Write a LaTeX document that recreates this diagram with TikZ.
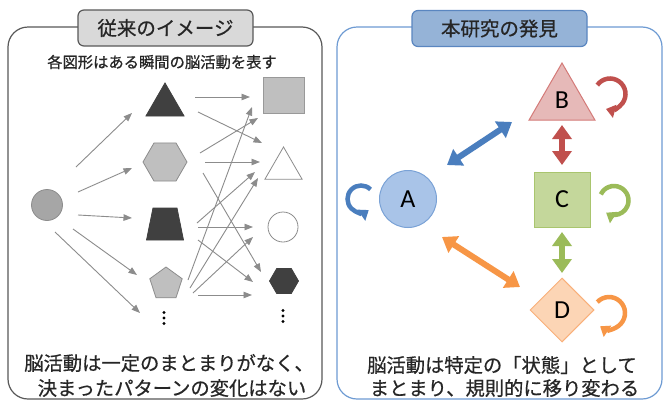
\documentclass[tikz,border=0pt]{standalone}
\usepackage{fontspec}
\setmainfont{Noto Sans CJK JP}[FakeBold=0.6]
\newfontfamily\latf{Carlito}
\usetikzlibrary{shapes.geometric,arrows.meta}
\definecolor{darkfill}{HTML}{404040}
\definecolor{shgray}{HTML}{BFBFBF}
\definecolor{shgrayb}{HTML}{8C8C8C}
\definecolor{meshgray}{HTML}{8C8C8C}
\definecolor{srcgray}{HTML}{A6A6A6}
\definecolor{lframe}{HTML}{595959}
\definecolor{ltitle}{HTML}{D9D9D9}
\definecolor{rframe}{HTML}{6E9BD3}
\definecolor{rtitle}{HTML}{95B3D7}
\definecolor{rtitleb}{HTML}{5A86C0}
\definecolor{afill}{HTML}{A9C4E8}
\definecolor{adraw}{HTML}{7AA2D6}
\definecolor{ablue}{HTML}{4A7EBE}
\definecolor{bfill}{HTML}{E6B9B8}
\definecolor{bdraw}{HTML}{D47A78}
\definecolor{bred}{HTML}{C0504D}
\definecolor{cfill}{HTML}{C4D79B}
\definecolor{cdraw}{HTML}{A9C56E}
\definecolor{cgreen}{HTML}{9BBB59}
\definecolor{dfill}{HTML}{FCD5B5}
\definecolor{ddraw}{HTML}{F9B07A}
\definecolor{dorange}{HTML}{F79646}
\definecolor{txt}{HTML}{262626}
\begin{document}
\begin{tikzpicture}[x=1pt,y=-1pt,
  darkshape/.style={fill=darkfill,draw=darkfill,line width=0.8pt,inner sep=0pt},
  grayshape/.style={fill=shgray,draw=shgrayb,line width=0.8pt,inner sep=0pt},
  whiteshape/.style={fill=white,draw=shgrayb,line width=0.8pt,inner sep=0pt},
  mesharrow/.style={draw=meshgray,line width=0.9pt,-{Triangle[length=8.5pt,width=6.5pt]}},
  dbl/.style={line width=6pt,arrows={Triangle[length=14pt,width=19pt]-Triangle[length=14pt,width=19pt]}},
  loopline/.style={line width=4.5pt,-{Triangle[length=9pt,width=13pt]}},
  titlebox/.style={rounded corners=6pt,line width=1.2pt,minimum width=175pt,minimum height=36pt,inner sep=0pt,font=\fontsize{19.5}{22}\selectfont,text=txt},
  bodytext/.style={inner sep=0pt,text=txt,font=\fontsize{19.3}{22}\selectfont},
  letter/.style={font=\latf\fontsize{26}{28}\selectfont,text=black}
]
\useasboundingbox[fill=white] (0,0) rectangle (664,402);

% ---------- frames ----------
\draw[lframe,line width=1.2pt,rounded corners=20pt] (8,27) rectangle (322,399);
\draw[rframe,line width=1.2pt,rounded corners=20pt] (337,27) rectangle (662,399);
\node[titlebox,fill=ltitle,draw=lframe] (T1) at (165.5,28) {従来のイメージ};
\node[titlebox,fill=rtitle,draw=rtitleb] (T2) at (499.5,28.5) {本研究の発見};

% ---------- left panel ----------
\node[inner sep=0pt,text=txt,font=\fontsize{15.3}{17}\selectfont] (sub) at (162,62) {各図形はある瞬間の脳活動を表す};

\node[circle,fill=srcgray,draw=shgrayb,line width=0.8pt,minimum size=31pt,inner sep=0pt] (S) at (47,205) {};

\node[darkshape,regular polygon,regular polygon sides=3,minimum size=44pt] (L1) at (165,105) {};
\node[grayshape,regular polygon,regular polygon sides=6,minimum size=44pt] (L2) at (165,162) {};
\coordinate (L3) at (165,224);
\draw[darkshape] (L3) ++(-12,-16) -- ++(24,0) -- ++(6.5,32) -- ++(-37,0) -- cycle;
\node[grayshape,regular polygon,regular polygon sides=5,minimum size=34pt] (L4) at (166,284) {};
\coordinate (Ld) at (164,318);
\foreach \d in {-5.5,0,5.5} \fill (Ld) ++(0,\d) circle (1.6);

\node[grayshape,draw=shgray!80!black,rectangle,minimum width=41pt,minimum height=36pt] (R1) at (283.5,95) {};
\node[whiteshape,regular polygon,regular polygon sides=3,minimum size=43pt] (R2) at (283.5,168.5) {};
\node[whiteshape,circle,minimum size=30pt] (R3) at (283,227) {};
\node[darkshape,regular polygon,regular polygon sides=6,minimum size=29pt] (R4) at (284,281) {};
\coordinate (Rd) at (283,316);
\foreach \d in {-5.5,0,5.5} \fill (Rd) ++(0,\d) circle (1.6);

% source arrows
\draw[mesharrow] ([shift={(29,-38)}]S.center) -- ([shift={(-33,8)}]L1.center);
\draw[mesharrow] ([shift={(31,-13)}]S.center) -- ([shift={(-33,6)}]L2.center);
\draw[mesharrow] ([shift={(31,10)}]S.center) -- ([shift={(-33,-6)}]L3);
\draw[mesharrow] ([shift={(26,24)}]S.center) -- ([shift={(-29,-9)}]L4.center);
\draw[mesharrow] ([shift={(8,27)}]S.center) -- ([shift={(-24,-5)}]Ld);

% mesh arrows
\draw[mesharrow] ([shift={(30,-8)}]L1.center) -- ([shift={(-33.5,2)}]R1.center);
\draw[mesharrow] ([shift={(33,7)}]L1.center) -- ([shift={(-21.5,-25.5)}]R2.center);
\draw[mesharrow] ([shift={(35,-9)}]L2.center) -- ([shift={(-25.5,23)}]R1.center);
\draw[mesharrow] ([shift={(40,0)}]L2.center) -- ([shift={(-23.5,-6.5)}]R2.center);
\draw[mesharrow] ([shift={(38,11)}]L2.center) -- ([shift={(-23,-9)}]R4.center);
\draw[mesharrow] ([shift={(32,-1)}]L3) -- ([shift={(-28.5,3.5)}]R2.center);
\draw[mesharrow] ([shift={(33,3)}]L3) -- ([shift={(-30,0)}]R3.center);
\draw[mesharrow] ([shift={(33,16)}]L3) -- ([shift={(-31,1)}]R4.center);
\draw[mesharrow] ([shift={(22,-4)}]L4.center) -- ([shift={(-31.5,12)}]R1.center);
\draw[mesharrow] ([shift={(24,4)}]L4.center) -- ([shift={(-25.5,9.5)}]R2.center);
\draw[mesharrow] ([shift={(27,9)}]L4.center) -- ([shift={(-30,10)}]R3.center);
\draw[mesharrow] ([shift={(32,11)}]L4.center) -- ([shift={(-32,14)}]R4.center);

\node[bodytext] (lt1) at (169,363) {脳活動は一定のまとまりがなく、};
\node[bodytext] (lt2) at (172,388) {決まったパターンの変化はない};

% ---------- right panel ----------
\node[circle,fill=afill,draw=adraw,line width=1pt,minimum size=57pt,inner sep=0pt,letter] (A) at (408,199) {A};
\node[regular polygon,regular polygon sides=3,fill=bfill,draw=bdraw,line width=1pt,minimum size=76pt,inner sep=0pt] (B) at (562,101) {};
\node[letter] (Blabel) at (562,100) {B};
\node[rectangle,fill=cfill,draw=cdraw,line width=1pt,minimum width=56pt,minimum height=55pt,inner sep=0pt,letter] (C) at (562,199.5) {C};
\node[diamond,fill=dfill,draw=ddraw,line width=1pt,minimum width=64pt,minimum height=64pt,inner sep=0pt,letter] (D) at (562,310) {D};

% transitions
\draw[dbl,ablue] ([shift={(39,-34)}]A.center) -- ([shift={(-50,21)}]B.center);
\draw[dbl,dorange] ([shift={(34,38)}]A.center) -- ([shift={(-42,-23)}]D.center);
\draw[dbl,bred] ([shift={(0,24)}]B.center) -- ([shift={(0,-34.5)}]C.center);
\draw[dbl,cgreen] ([shift={(0,32.5)}]C.center) -- ([shift={(0,-37)}]D.center);

% self loops
\draw[loopline,ablue] ([shift={(-47,0)}]A.center) ++(315:13.5) arc[start angle=315,end angle=55,radius=13.5];
\draw[loopline,bred] ([shift={(48,-7)}]B.center) ++(215:15.5) arc[start angle=215,end angle=465,radius=15.5];
\draw[loopline,cgreen] ([shift={(52,1)}]C.center) ++(205:14.5) arc[start angle=205,end angle=483,radius=14.5];
\draw[loopline,dorange] ([shift={(47,3)}]D.center) ++(223:16) arc[start angle=223,end angle=484,radius=16];

\node[bodytext] (rt1) at (502,365) {脳活動は特定の「状態」として};
\node[bodytext] (rt2) at (504.5,388) {まとまり、規則的に移り変わる};
\end{tikzpicture}
\end{document}
